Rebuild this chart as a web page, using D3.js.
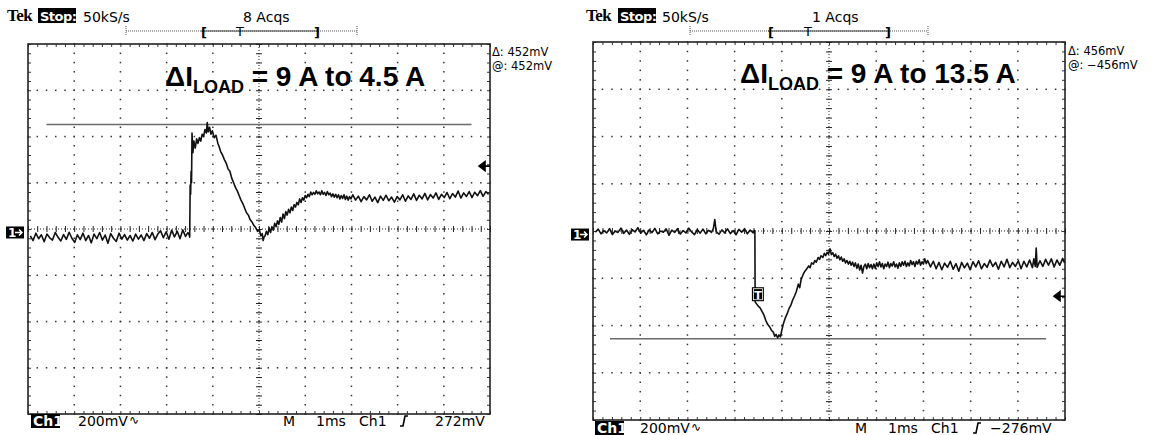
<!DOCTYPE html>
<html>
<head>
<meta charset="utf-8">
<script src="https://cdn.jsdelivr.net/npm/d3@7"></script>
<style>
  body { margin: 0; background: #fff; }
  svg text { font-family: "DejaVu Sans", sans-serif; fill: #000; }
</style>
</head>
<body>
<svg width="1159" height="435"></svg>
<script>
// screen divisions: 1 ms/div, 200 mV/div
const timeTicks = [-5, -4, -3, -2, -1, 0, 1, 2, 3, 4, 5];
const voltTicks = [-800, -600, -400, -200, 0, 200, 400, 600, 800];

// left screen: load step 9 A -> 4.5 A  [ms, mV]
const leftTrace = [
  [-4.95,-30],[-4.89,-50],[-4.83,-18],[-4.77,-42],[-4.71,-25],[-4.65,-55],[-4.59,-22],[-4.53,-38],
  [-4.47,-48],[-4.41,-15],[-4.35,-36],[-4.29,-52],[-4.23,-24],[-4.17,-45],[-4.11,-14],[-4.05,-40],
  [-3.99,-58],[-3.93,-25],[-3.87,-46],[-3.81,-18],[-3.75,-50],[-3.69,-28],[-3.63,-60],[-3.57,-22],
  [-3.51,-42],[-3.45,-15],[-3.39,-48],[-3.33,-26],[-3.27,-62],[-3.21,-20],[-3.15,-40],[-3.09,-54],
  [-3.03,-18],[-2.97,-44],[-2.91,-24],[-2.85,-48],[-2.79,-28],[-2.73,-52],[-2.67,-22],[-2.61,-44],
  [-2.55,-26],[-2.49,-50],[-2.43,-20],[-2.37,-40],[-2.31,-15],[-2.25,-46],[-2.19,-22],[-2.13,-8],
  [-2.07,-38],[-2.01,-12],[-1.95,-44],[-1.89,-5],[-1.83,-34],[-1.77,-10],[-1.71,-42],[-1.65,-4],
  [-1.59,-32],[-1.54,-16],[-1.51,-25],[-1.50,-35],[-1.49,190],[-1.48,150],[-1.47,250],[-1.46,200],
  [-1.45,415],[-1.43,330],[-1.41,380],[-1.38,350],[-1.35,390],[-1.32,370],[-1.29,395],[-1.26,380],
  [-1.23,410],[-1.20,400],[-1.17,430],[-1.14,415],[-1.12,460],[-1.10,420],[-1.07,440],[-1.04,410],
  [-1.01,425],[-0.97,395],[-0.93,405],[-0.89,370],[-0.86,355],[-0.83,335],[-0.79,320],[-0.75,300],
  [-0.71,285],[-0.67,260],[-0.63,250],[-0.59,220],[-0.55,200],[-0.51,180],[-0.47,165],[-0.43,145],
  [-0.39,125],[-0.35,110],[-0.31,90],[-0.27,70],[-0.23,60],[-0.19,40],[-0.15,30],[-0.11,15],
  [-0.07,5],[-0.03,-10],[0.01,-5],[0.04,-30],[0.07,-20],[0.09,-50],[0.11,-35],[0.13,-30],
  [0.16,-10],[0.19,-25],[0.22,5],[0.25,-15],[0.28,10],[0.31,-5],[0.34,25],[0.37,10],
  [0.40,35],[0.43,20],[0.46,50],[0.49,30],[0.52,65],[0.55,45],[0.58,75],[0.61,60],
  [0.64,85],[0.67,70],[0.70,95],[0.73,80],[0.76,105],[0.79,95],[0.82,115],[0.85,105],
  [0.88,130],[0.91,115],[0.94,135],[0.97,125],[1.00,145],[1.03,135],[1.06,150],[1.09,140],
  [1.12,160],[1.15,148],[1.18,158],[1.21,150],[1.24,165],[1.27,152],[1.30,160],[1.33,148],
  [1.36,165],[1.39,150],[1.42,158],[1.45,145],[1.48,162],[1.51,148],[1.54,155],[1.57,140],
  [1.60,152],[1.63,138],[1.66,150],[1.69,135],[1.72,148],[1.75,130],[1.78,145],[1.81,132],
  [1.84,148],[1.87,128],[1.90,142],[1.93,125],[1.96,140],[1.99,130],[2.03,148],[2.09,125],
  [2.15,142],[2.21,118],[2.27,140],[2.33,126],[2.39,148],[2.45,120],[2.51,138],[2.57,114],
  [2.63,142],[2.69,124],[2.75,146],[2.81,122],[2.87,138],[2.93,116],[2.99,140],[3.05,126],
  [3.11,148],[3.17,120],[3.23,143],[3.29,128],[3.35,152],[3.41,124],[3.47,146],[3.53,130],
  [3.59,154],[3.65,126],[3.71,149],[3.77,134],[3.83,156],[3.89,128],[3.95,150],[4.01,136],
  [4.07,158],[4.13,131],[4.19,153],[4.25,138],[4.31,164],[4.37,134],[4.43,156],[4.49,141],
  [4.55,162],[4.61,136],[4.67,159],[4.73,144],[4.79,166],[4.85,141],[4.91,162],[4.97,150]
];

// right screen: load step 9 A -> 13.5 A  [ms, mV]
const rightTrace = [
  [-4.95,-5],[-4.89,8],[-4.83,-12],[-4.77,2],[-4.71,-8],[-4.65,10],[-4.59,-15],[-4.53,0],
  [-4.47,-6],[-4.41,12],[-4.35,-10],[-4.29,4],[-4.23,-14],[-4.17,6],[-4.11,-4],[-4.05,14],
  [-3.99,-9],[-3.93,3],[-3.87,-16],[-3.81,5],[-3.75,-7],[-3.69,11],[-3.63,-12],[-3.57,0],
  [-3.51,-5],[-3.45,9],[-3.39,-18],[-3.33,4],[-3.27,-6],[-3.21,10],[-3.15,-13],[-3.09,2],
  [-3.03,-8],[-2.97,12],[-2.91,-4],[-2.85,-15],[-2.79,6],[-2.73,-9],[-2.67,8],[-2.61,-12],
  [-2.55,3],[-2.49,-6],[-2.45,10],[-2.42,48],[-2.39,-2],[-2.33,-14],[-2.27,5],[-2.21,-8],
  [-2.15,9],[-2.09,-11],[-2.03,2],[-1.97,-16],[-1.91,7],[-1.85,-5],[-1.79,10],[-1.73,-12],
  [-1.67,4],[-1.61,-7],[-1.58,2],[-1.57,-5],[-1.565,-300],[-1.50,-318],[-1.46,-325],[-1.42,-340],
  [-1.38,-355],[-1.34,-378],[-1.30,-395],[-1.26,-405],[-1.22,-420],[-1.18,-428],[-1.15,-445],[-1.12,-438],
  [-1.09,-452],[-1.06,-440],[-1.03,-448],[-1.00,-420],[-0.97,-395],[-0.93,-370],[-0.89,-352],[-0.85,-330],
  [-0.81,-315],[-0.77,-292],[-0.73,-275],[-0.69,-255],[-0.65,-225],[-0.62,-240],[-0.59,-205],[-0.55,-185],
  [-0.51,-170],[-0.47,-160],[-0.43,-148],[-0.40,-155],[-0.37,-135],[-0.33,-140],[-0.30,-125],[-0.27,-132],
  [-0.23,-112],[-0.20,-120],[-0.17,-105],[-0.13,-112],[-0.10,-95],[-0.07,-104],[-0.04,-90],[-0.01,-98],
  [0.02,-75],[0.05,-100],[0.08,-92],[0.11,-108],[0.14,-98],[0.17,-115],[0.20,-105],[0.23,-122],
  [0.26,-110],[0.29,-128],[0.32,-118],[0.35,-135],[0.38,-125],[0.41,-140],[0.44,-128],[0.47,-145],
  [0.50,-132],[0.53,-150],[0.56,-135],[0.59,-158],[0.62,-140],[0.65,-165],[0.68,-145],[0.71,-178],
  [0.74,-150],[0.77,-140],[0.80,-160],[0.83,-138],[0.86,-155],[0.89,-142],[0.92,-160],[0.95,-140],
  [0.98,-158],[1.01,-135],[1.04,-150],[1.07,-130],[1.10,-152],[1.13,-138],[1.16,-160],[1.19,-140],
  [1.22,-150],[1.25,-132],[1.28,-155],[1.31,-138],[1.34,-148],[1.37,-130],[1.40,-152],[1.43,-140],
  [1.46,-158],[1.49,-135],[1.52,-150],[1.55,-130],[1.58,-145],[1.61,-128],[1.64,-150],[1.67,-135],
  [1.70,-148],[1.73,-125],[1.76,-142],[1.79,-130],[1.82,-150],[1.85,-128],[1.88,-140],[1.91,-122],
  [1.94,-145],[1.97,-130],[2.00,-140],[2.03,-118],[2.06,-138],[2.09,-125],[2.15,-152],[2.21,-128],
  [2.27,-160],[2.33,-133],[2.39,-164],[2.45,-136],[2.51,-154],[2.57,-128],[2.63,-162],[2.69,-138],
  [2.75,-170],[2.81,-133],[2.87,-156],[2.93,-136],[2.99,-164],[3.05,-130],[3.11,-152],[3.17,-126],
  [3.23,-160],[3.29,-138],[3.35,-154],[3.41,-123],[3.47,-150],[3.53,-133],[3.59,-162],[3.65,-128],
  [3.71,-152],[3.77,-120],[3.83,-155],[3.89,-133],[3.95,-150],[4.01,-126],[4.07,-160],[4.13,-128],
  [4.19,-152],[4.25,-123],[4.31,-155],[4.34,-118],[4.37,-150],[4.39,-72],[4.41,-154],[4.47,-126],
  [4.53,-150],[4.59,-120],[4.65,-145],[4.71,-118],[4.77,-152],[4.83,-123],[4.89,-145],[4.95,-116],
  [4.99,-135]
];

const titles = [["9 A to 4.5 A"], ["9 A to 13.5 A"]];
const acqs = ["8 Acqs", "1 Acqs"];
const cursorLevels = [452, -456];     // mV
const cursorReadouts = [["Δ: 452mV", "@: 452mV"], ["Δ: 456mV", "@: −456mV"]];
const triggerLevels = [272, -276];    // mV
const triggerLabels = ["272mV", "−276mV"];
const triggerTimes = [-1.49, -1.57];  // ms

// where each screen sits in the picture
const screens = [
  { x: 28, y: 44, w: 462, h: 370, data: leftTrace, showT: false,
    tek: 7, stop: 38, rate: 83, acq: 243, bar: [126, 357], brk: [201, 317], tpos: 240,
    titleX: 165, titleY: 86, readX: 492, readY: 56, bottomY: 426,
    bottom: { ch: 31, volts: 78, m: 283, ms: 316, ch2: 359, edge: 400, lvl: 435 },
    cursorSpan: [-4.6, 4.6] },
  { x: 593, y: 42, w: 472, h: 378, data: rightTrace, showT: true,
    tek: 586, stop: 618, rate: 662, acq: 812, bar: [690, 928], brk: [768, 888], tpos: 808,
    titleX: 740, titleY: 83, readX: 1068, readY: 55, bottomY: 433,
    bottom: { ch: 595, volts: 640, m: 855, ms: 888, ch2: 931, edge: 973, lvl: 990 },
    cursorSpan: [-4.64, 4.6] }
];

const svg = d3.select("svg");

screens.forEach((s, i) => {
  const x = d3.scaleLinear().domain([timeTicks[0], timeTicks[timeTicks.length - 1]]).range([s.x, s.x + s.w]);
  const y = d3.scaleLinear().domain([voltTicks[0], voltTicks[voltTicks.length - 1]]).range([s.y + s.h, s.y]);
  const minorT = d3.range(-25, 26).map(k => k / 5);
  const minorV = d3.range(-20, 21).map(k => k * 40);

  const g = svg.append("g");

  // graticule dots
  const dots = [];
  timeTicks.filter(t => t !== 0 && Math.abs(t) !== 5).forEach(t =>
    minorV.forEach(v => dots.push([t, v])));
  voltTicks.filter(v => v !== 0 && Math.abs(v) !== 800).forEach(v =>
    minorT.forEach(t => dots.push([t, v])));
  g.selectAll(".dot").data(dots).enter().append("rect")
    .attr("x", d => x(d[0]) - 0.7).attr("y", d => y(d[1]) - 0.7)
    .attr("width", 1.5).attr("height", 1.5).attr("fill", "#333");

  // centre cross
  g.append("line").attr("x1", x(0)).attr("x2", x(0)).attr("y1", y(800)).attr("y2", y(-800))
    .attr("stroke", "#222").attr("stroke-width", 1).attr("stroke-dasharray", "1,2");
  g.append("line").attr("x1", x(-5)).attr("x2", x(5)).attr("y1", y(0)).attr("y2", y(0))
    .attr("stroke", "#222").attr("stroke-width", 1).attr("stroke-dasharray", "1,2");

  g.append("g").attr("transform", `translate(0,${y(0)})`)
    .call(d3.axisBottom(x).tickValues(minorT).tickSize(3).tickFormat(""))
    .call(a => a.select(".domain").remove())
    .call(a => a.selectAll(".tick line").attr("y1", -3).attr("stroke", "#222"));
  g.append("g").attr("transform", `translate(${x(0)},0)`)
    .call(d3.axisLeft(y).tickValues(minorV).tickSize(3).tickFormat(""))
    .call(a => a.select(".domain").remove())
    .call(a => a.selectAll(".tick line").attr("x1", 3).attr("stroke", "#222"));

  // frame with inward ticks
  const edge = [
    [d3.axisBottom(x).tickValues(minorT), `translate(0,${s.y})`],
    [d3.axisTop(x).tickValues(minorT), `translate(0,${s.y + s.h})`],
    [d3.axisRight(y).tickValues(minorV), `translate(${s.x},0)`],
    [d3.axisLeft(y).tickValues(minorV), `translate(${s.x + s.w},0)`]
  ];
  edge.forEach(([ax, tr]) => {
    g.append("g").attr("transform", tr)
      .call(ax.tickSize(3).tickFormat(""))
      .call(a => a.select(".domain").remove())
      .call(a => a.selectAll(".tick line").attr("stroke", "#333"));
  });
  g.append("rect").attr("x", s.x).attr("y", s.y).attr("width", s.w).attr("height", s.h)
    .attr("fill", "none").attr("stroke", "#222").attr("stroke-width", 1.6);

  // cursor
  g.append("line")
    .attr("x1", x(s.cursorSpan[0])).attr("x2", x(s.cursorSpan[1]))
    .attr("y1", y(cursorLevels[i])).attr("y2", y(cursorLevels[i]))
    .attr("stroke", "#6a6a6a").attr("stroke-width", 1.7);

  // trace
  g.append("path").datum(s.data)
    .attr("d", d3.line().x(d => x(d[0])).y(d => y(d[1])))
    .attr("fill", "none").attr("stroke", "#111").attr("stroke-width", 1.6)
    .attr("stroke-linejoin", "round");

  // trigger point marker on the trace
  if (s.showT) {
    const tx = x(triggerTimes[i]) + 3, ty = y(triggerLevels[i]) - 2;
    g.append("rect").attr("x", tx - 6).attr("y", ty - 7).attr("width", 12).attr("height", 14)
      .attr("fill", "#000");
    g.append("rect").attr("x", tx - 4.5).attr("y", ty - 5.5).attr("width", 9).attr("height", 11)
      .attr("fill", "none").attr("stroke", "#fff").attr("stroke-width", 0.8);
    g.append("text").attr("x", tx).attr("y", ty + 4.5).attr("text-anchor", "middle")
      .style("font-size", "11px").style("font-weight", "bold").style("fill", "#fff").text("T");
  }

  // trigger level arrow at the right edge
  const ay = y(triggerLevels[i]);
  const ax0 = s.x + s.w;
  g.append("path")
    .attr("d", `M${ax0 - 11},${ay} L${ax0 - 5},${ay - 4.5} L${ax0 - 5},${ay + 4.5} Z M${ax0 - 6},${ay} L${ax0},${ay}`)
    .attr("fill", "#000").attr("stroke", "#000").attr("stroke-width", 1.6);

  // ground marker "1→"
  const gy = y(-15);
  g.append("rect").attr("x", s.x - 22).attr("y", gy - 6).attr("width", 18).attr("height", 12).attr("fill", "#000");
  g.append("text").attr("x", s.x - 20).attr("y", gy + 4.5).style("font-size", "12px")
    .style("font-weight", "bold").style("fill", "#fff").text("1");
  g.append("path").attr("d", `M${s.x - 13},${gy} L${s.x - 6},${gy} M${s.x - 9},${gy - 3} L${s.x - 6},${gy} L${s.x - 9},${gy + 3}`)
    .attr("stroke", "#fff").attr("stroke-width", 1.5).attr("fill", "none");

  // header line
  g.append("text").attr("x", s.tek).attr("y", 21)
    .style("font-family", "'Liberation Serif', serif").style("font-weight", "bold")
    .style("font-size", "17px").style("letter-spacing", "-0.5px").text("Tek");
  g.append("rect").attr("x", s.stop).attr("y", 8).attr("width", 38).attr("height", 15).attr("fill", "#000");
  g.append("text").attr("x", s.stop + 2).attr("y", 21).style("font-size", "13px")
    .style("font-weight", "bold").style("fill", "#fff").style("letter-spacing", "-0.5px").text("Stop:");
  g.append("text").attr("x", s.rate).attr("y", 22).style("font-size", "14px").text("50kS/s");
  g.append("text").attr("x", s.acq).attr("y", 22).style("font-size", "14px").text(acqs[i]);

  // record position bar
  g.append("line").attr("x1", s.bar[0]).attr("x2", s.bar[1]).attr("y1", 31).attr("y2", 31)
    .attr("stroke", "#555").attr("stroke-width", 1).attr("stroke-dasharray", "1,1");
  s.bar.forEach(bx => g.append("line").attr("x1", bx).attr("x2", bx).attr("y1", 26).attr("y2", 36)
    .attr("stroke", "#555").attr("stroke-dasharray", "1,1"));
  g.append("line").attr("x1", s.brk[0]).attr("x2", s.brk[1]).attr("y1", 31).attr("y2", 31)
    .attr("stroke", "#444").attr("stroke-width", 1);
  g.append("text").attr("x", s.brk[0]).attr("y", 37).style("font-size", "13px").style("font-weight", "bold").text("[");
  g.append("text").attr("x", s.brk[1] - 3).attr("y", 37).style("font-size", "13px").style("font-weight", "bold").text("]");
  g.append("text").attr("x", s.tpos).attr("y", 36).attr("text-anchor", "middle").style("font-size", "13px").text("T");

  // cursor readout
  cursorReadouts[i].forEach((r, k) =>
    g.append("text").attr("x", s.readX).attr("y", s.readY + k * 13.5).style("font-size", "11.5px").text(r));

  // title
  const title = g.append("text").attr("x", s.titleX).attr("y", s.titleY)
    .style("font-family", "'Liberation Sans', Arial, sans-serif").style("font-weight", "bold")
    .style("font-size", "28px");
  title.append("tspan").text("ΔI");
  title.append("tspan").attr("dy", 7).style("font-size", "18px").text("LOAD");
  title.append("tspan").attr("dy", -7).text(" = " + titles[i][0]);

  // bottom readout
  const b = s.bottom, by = s.bottomY;
  g.append("rect").attr("x", b.ch).attr("y", by - 12).attr("width", 29).attr("height", 14).attr("fill", "#000");
  g.append("text").attr("x", b.ch + 2).attr("y", by).style("font-size", "14px")
    .style("font-weight", "bold").style("fill", "#fff").text("Ch1");
  g.append("text").attr("x", b.volts).attr("y", by).style("font-size", "14px").text("200mV");
  g.append("text").attr("x", b.volts + 51).attr("y", by - 2).style("font-size", "12px").text("∿");
  g.append("text").attr("x", b.m).attr("y", by).style("font-size", "14px").text("M");
  g.append("text").attr("x", b.ms).attr("y", by).style("font-size", "14px").text("1ms");
  g.append("text").attr("x", b.ch2).attr("y", by).style("font-size", "14px").text("Ch1");
  g.append("path").attr("d", `M${b.edge},${by} L${b.edge + 3},${by} L${b.edge + 5},${by - 10} L${b.edge + 8},${by - 10}`)
    .attr("fill", "none").attr("stroke", "#000").attr("stroke-width", 1.6);
  g.append("text").attr("x", b.lvl).attr("y", by).style("font-size", "14px").text(triggerLabels[i]);
});
</script>
</body>
</html>
